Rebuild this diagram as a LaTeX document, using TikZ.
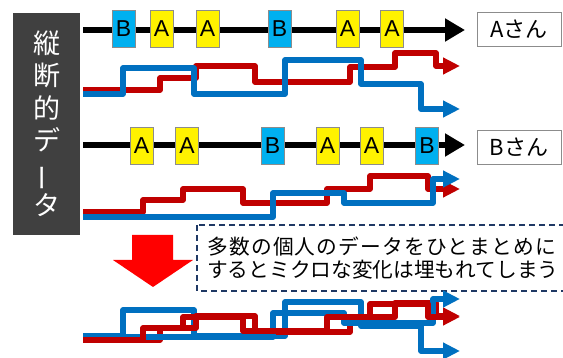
\documentclass[tikz,border=0pt]{standalone}
\usepackage{fontspec}
\usepackage{graphicx}
\setmainfont{Noto Sans CJK JP}
\newfontfamily\latinsans{Liberation Sans}
\usetikzlibrary{arrows.meta}
\definecolor{wblue}{RGB}{0,112,192}
\definecolor{wred}{RGB}{192,0,0}
\definecolor{boxcyan}{RGB}{0,176,240}
\definecolor{darkbg}{RGB}{64,64,64}
\definecolor{navyd}{RGB}{31,56,100}
\definecolor{boxedge}{RGB}{140,140,140}
\tikzset{
  evbox/.style={draw=boxedge, line width=0.7pt, minimum width=23pt, minimum height=37pt, inner sep=0pt, font=\latinsans\fontsize{23}{23}\selectfont},
  evA/.style={evbox, fill=yellow},
  evB/.style={evbox, fill=boxcyan},
  timeline/.style={line width=6pt, -{Triangle[length=20pt,width=22pt]}},
  redw/.style={wred, line width=5.5pt, line join=round, -{Triangle[length=17pt,width=16pt]}},
  bluew/.style={wblue, line width=5.5pt, line join=round, -{Triangle[length=17pt,width=16pt]}},
  namebox/.style={draw=boxedge, line width=0.8pt, fill=white, minimum width=84pt, minimum height=34pt, inner sep=0pt, font=\fontsize{22}{22}\selectfont},
  dashbox/.style={draw=navyd, line width=1.5pt, dash pattern=on 6pt off 4pt},
}
\newcommand{\wRedA}[1][]{\draw[redw,#1] (83,90) -- (160,90) -- (160,78) -- (196,78) -- (196,66) -- (255,66) -- (255,82) -- (350,82) -- (350,67) -- (395,67) -- (395,53) -- (436,53) -- (436,66) -- (460,66);}
\newcommand{\wBlueA}[1][]{\draw[bluew,#1] (83,94) -- (123,94) -- (123,68) -- (194,68) -- (194,94) -- (285,94) -- (285,60) -- (361,60) -- (361,84) -- (421,84) -- (421,109) -- (460,109);}
\newcommand{\wRedB}[1][]{\draw[redw,#1] (83,212) -- (143,212) -- (143,200) -- (183,200) -- (183,189) -- (243,189) -- (243,203) -- (327,203) -- (327,189) -- (370,189) -- (370,176) -- (428,176) -- (428,189) -- (460,189);}
\newcommand{\wBlueB}[1][]{\draw[bluew,#1] (83,217) -- (273,217) -- (273,193) -- (344,193) -- (344,203) -- (433,203) -- (433,179) -- (460,179);}
\begin{document}
\begin{tikzpicture}[x=1pt,y=-1pt]
\useasboundingbox (0,0) rectangle (563,358);
\fill[white] (0,0) rectangle (563,358);

% vertical title
\node[fill=darkbg, minimum width=67pt, minimum height=222pt, inner sep=0pt, text=white, align=center, font=\fontsize{27}{32.5}\selectfont] (vbox) at (46.5,124) {縦\\断\\的\\デ\\\rotatebox[origin=c]{90}{ー}\\タ};

% timeline A
\coordinate (l1s) at (83,30);
\coordinate (l1e) at (465,30);
\draw[timeline] (l1s) -- (l1e);
\node[evB] (a1) at (123.5,29) {B};
\node[evA] (a2) at (161.5,29) {A};
\node[evA] (a3) at (207.5,29) {A};
\node[evB] (a4) at (279.5,29) {B};
\node[evA] (a5) at (347.5,29) {A};
\node[evA] (a6) at (392,29) {A};
\node[namebox] (na) at (519,29) {Aさん};

% timeline B
\coordinate (l2s) at (83,145);
\coordinate (l2e) at (465,145);
\draw[timeline] (l2s) -- (l2e);
\node[evA] (b1) at (141.5,145.5) {A};
\node[evA] (b2) at (187,145.5) {A};
\node[evB] (b3) at (272.5,145.5) {B};
\node[evA] (b4) at (327.5,145.5) {A};
\node[evA] (b5) at (371.5,145.5) {A};
\node[evB] (b6) at (427,145.5) {B};
\node[namebox] (nb) at (519,147.5) {Bさん};

% waves A
\wRedA
\wBlueA
% waves B
\wRedB
\wBlueB

% red down arrow
\fill[red] (132,235) -- (173,235) -- (173,260) -- (193,260) -- (153,287) -- (113,260) -- (132,260) -- cycle;

% dashed note
\draw[dashbox] (197,225) rectangle (575,291);
\node[anchor=west, align=left, inner sep=0pt, font=\fontsize{20.7}{23}\selectfont] (note) at (207,258.5) {{\addfontfeatures{LetterSpace=6}多数の個人のデータをひとまとめに}\\するとミクロな変化は埋もれてしまう};

% combined waves
\wBlueA[yshift=-242pt]
\wRedA[yshift=-250pt]
\wBlueB[yshift=-120pt]
\wRedB[yshift=-128pt]
\end{tikzpicture}
\end{document}
